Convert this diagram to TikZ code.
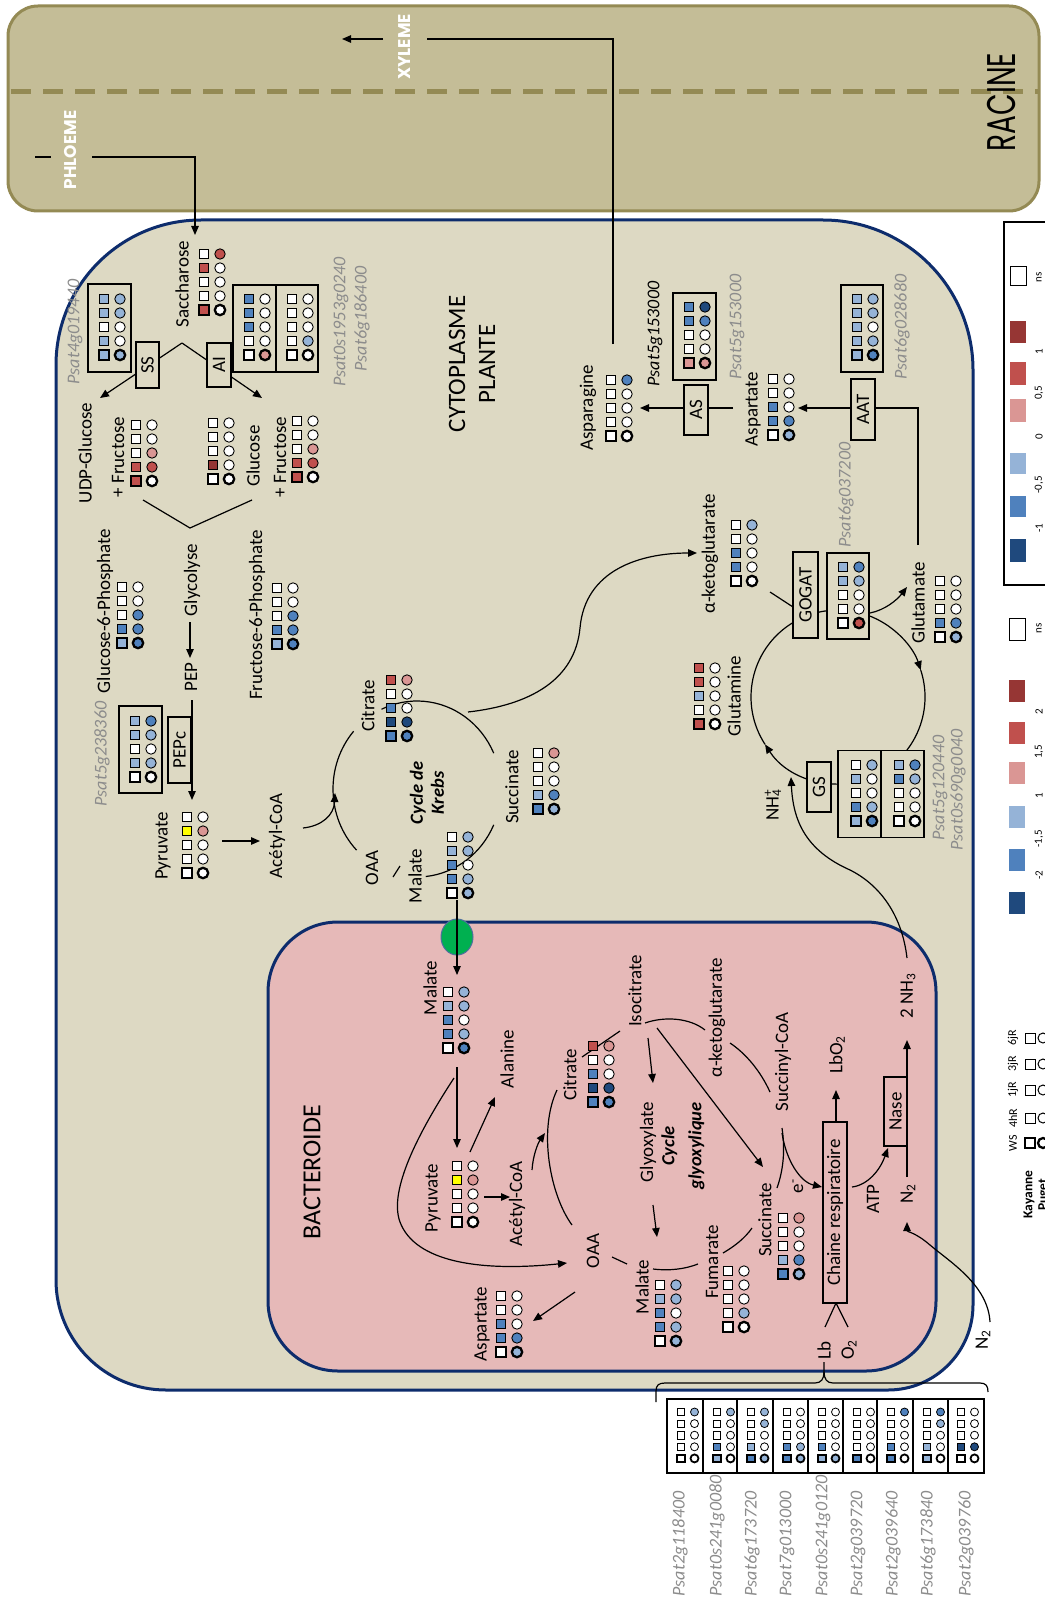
\documentclass[tikz,border=0pt]{standalone}
\usepackage{fontspec}
\setmainfont{Carlito}
\newfontfamily\gothic{Poppins}
\usetikzlibrary{arrows.meta}
\definecolor{racfill}{HTML}{C4BD97}
\definecolor{racline}{HTML}{948A54}
\definecolor{cyto}{HTML}{DDD9C3}
\definecolor{navy}{HTML}{0D2C6C}
\definecolor{bact}{HTML}{E6B9B8}
\definecolor{gtxt}{HTML}{8C8C8C}
\definecolor{ww}{HTML}{FFFFFF}
\definecolor{lb}{HTML}{95B3D7}
\definecolor{mb}{HTML}{4F81BD}
\definecolor{db}{HTML}{1F497D}
\definecolor{lr}{HTML}{DA9694}
\definecolor{mr}{HTML}{C0504D}
\definecolor{dr}{HTML}{963634}
\definecolor{yy}{HTML}{FFFF00}
\definecolor{trans}{HTML}{00B050}
\definecolor{transb}{HTML}{4F6E9E}
\newcommand\lab{\fontsize{19}{21}\selectfont}
\newcommand\genefont{\fontsize{18}{20}\selectfont\itshape}
\newcommand\hmg[9]{%
  \foreach \hc [count=\hi] in {#8}{%
    \pgfmathsetmacro\hlw{\hi==5 ? #7 : #6}%
    \draw[line width=\hlw pt, fill=\hc] ({#1-#4},{#2+(\hi-1)*#3-#4}) rectangle ({#1+#4},{#2+(\hi-1)*#3+#4});%
  }%
  \foreach \hc [count=\hi] in {#9}{%
    \pgfmathsetmacro\hlw{\hi==5 ? #7 : #6}%
    \draw[line width=\hlw pt, fill=\hc] ({#1+#5},{#2+(\hi-1)*#3}) circle[radius={#4+0.3}];%
  }%
}
\newcommand\hm[4]{\hmg{#1}{#2}{14}{4.9}{16}{0.9}{2.3}{#3}{#4}}
\newcommand\hms[4]{\hmg{#1}{#2}{11.6}{3.7}{13.5}{0.8}{1.8}{#3}{#4}}
\begin{document}
\begin{tikzpicture}[x=1pt,y=-1pt,
  ln/.style={line width=1.2pt},
  arr/.style={line width=1.2pt,-{Triangle[length=9pt,width=7.5pt]}},
  lbl/.style={rotate=90,font=\lab,inner sep=0.5pt},
  gene/.style={rotate=90,font=\genefont,text=gtxt,inner sep=0.5pt},
  enz/.style={draw,fill=cyto,rotate=90,line width=1.1pt,font=\lab,inner sep=0pt},
  gbox/.style={draw,fill=cyto,line width=1.3pt,inner sep=0pt},
  leg/.style={rotate=90,font=\fontsize{11}{12}\selectfont,inner sep=0.5pt}]
\fill[white] (0,0) rectangle (1044,1602);
\useasboundingbox (0,0) rectangle (1044,1602);

% ---------- RACINE ----------
\draw[fill=racfill,draw=racline,line width=3pt,rounded corners=30pt] (8,6) rectangle (1039,211);
\draw[racline,line width=5pt,dash pattern=on 20pt off 12pt] (11,92) -- (1038,92);

% ---------- cytoplasm ----------
\draw[fill=cyto,draw=navy,line width=3pt] (56,365) -- (56,1280) arc[start angle=180,end angle=90,radius=110]
  -- (888,1390) arc[start angle=90,end angle=0,radius=85]
  -- (973,370) arc[start angle=0,end angle=-90,radius=150]
  -- (201,220) arc[start angle=270,end angle=180,radius=145] -- cycle;

% ---------- bacteroid ----------
\draw[fill=bact,draw=navy,line width=3pt,rounded corners=70pt] (268,922) rectangle (936,1371);
\draw[fill=trans,draw=transb,line width=1pt] (457,937) ellipse[x radius=16,y radius=18];

% ---------- coordinates ----------
\coordinate (kc) at (417,789);
\coordinate (gc) at (838,697);
\coordinate (phA) at (35,157); \coordinate (phB) at (51,157);
\coordinate (phC) at (92,157); \coordinate (sacTop) at (195,235);
\coordinate (asnTop) at (613,344); \coordinate (xyR) at (427,39);
\coordinate (xyL) at (383,39); \coordinate (xyTip) at (342,39);
\coordinate (sacV) at (182,343); \coordinate (udpT) at (100,398); \coordinate (glcT) at (262,398);
\coordinate (gvA) at (143,500); \coordinate (gvB) at (190,528); \coordinate (gvC) at (252,500);
\coordinate (glyA) at (190,622); \coordinate (glyB) at (190,658);
\coordinate (pepA) at (192,700); \coordinate (pepB) at (192,800);
\coordinate (pyrA) at (222,841); \coordinate (pyrB) at (260,841);
\coordinate (acA) at (303,828); \coordinate (acB) at (335,793);
\coordinate (kA) at (468,712); \coordinate (akgT) at (697,553);
\coordinate (aspL) at (733,408); \coordinate (asnR) at (640,408);
\coordinate (gluT) at (918,545); \coordinate (aspR) at (798,408);
\coordinate (akgG) at (770,592); \coordinate (gogG) at (793,607);
\coordinate (gogR) at (870,613); \coordinate (gluL) at (907,587);
\coordinate (nh3T) at (907,958); \coordinate (nh4B) at (791,777);
\coordinate (malA) at (457,900); \coordinate (malB) at (457,975);

% ---------- cytoplasm connectors ----------
\draw[ln] (phA) -- (phB);
\draw[arr] (phC) -| (sacTop);
\draw[ln] (asnTop) |- (xyR);
\draw[arr] (xyL) -- (xyTip);
\draw[arr] (sacV) -- (udpT);
\draw[arr] (sacV) -- (glcT);
\draw[ln] (gvA) -- (gvB) -- (gvC);
\draw[arr] (glyA) -- (glyB);
\draw[arr] (pepA) -- (pepB);
\draw[arr] (pyrA) -- (pyrB);
\draw[ln] (kc) ++(136:84 and 88) arc[start angle=136,end angle=221,x radius=84,y radius=88];
\draw[ln] (kc) ++(245:84 and 88) arc[start angle=245,end angle=336,x radius=84,y radius=88];
\draw[ln] (kc) ++(24:84 and 88) arc[start angle=24,end angle=84,x radius=84,y radius=88];
\draw[ln] (393,877) -- (400,866);
\draw[arr] (acA) .. controls (322,826) and (334,815) .. (acB);
\draw[arr] (kA) .. controls (530,705) and (575,680) .. (580,628) .. controls (585,570) and (640,553) .. (akgT);
\draw[arr] (aspL) -- (asnR);
\draw[arr] (gluT) |- (aspR);
\draw[arr] (gc) ++(342:87) arc[start angle=342,end angle=507,radius=87];
\draw[arr] (gc) ++(147:87) arc[start angle=147,end angle=342,radius=87];
\draw[ln] (akgG) -- (gogG);
\draw[arr] (gogR) .. controls (885,610) and (897,600) .. (gluL);
\draw[arr] (nh3T) .. controls (902,915) and (880,885) .. (850,870) .. controls (805,850) and (793,820) .. (nh4B);
\draw[arr] (malA) -- (malB);

% ---------- bacteroid connectors ----------
\coordinate (bmA) at (457,1067); \coordinate (bmB) at (457,1148);
\coordinate (bpA) at (470,1152); \coordinate (alaB) at (495,1097);
\coordinate (bpC) at (484,1197); \coordinate (bacB) at (510,1197);
\coordinate (bacA) at (532,1170); \coordinate (bacT) at (545,1133);
\coordinate (boaT) at (572,1225); \coordinate (bciB) at (557,1090);
\coordinate (bciA) at (582,1057); \coordinate (iciL) at (620,1031);
\coordinate (bmC) at (454,1078); \coordinate (boaL) at (567,1263);
\coordinate (boaB) at (575,1292); \coordinate (baspT) at (533,1321);
\coordinate (iciA) at (645,1023); \coordinate (akgB) at (705,1030);
\coordinate (iciB) at (648,1038); \coordinate (glxT) at (653,1083);
\coordinate (glxB) at (653,1205); \coordinate (bm2T) at (657,1237);
\coordinate (iciC) at (657,1028); \coordinate (bsucT) at (763,1167);
\coordinate (scoB) at (782,1133); \coordinate (chL) at (822,1187);
\coordinate (chT) at (836,1122); \coordinate (lboB) at (836,1090);
\coordinate (chB) at (836,1303); \coordinate (lbT) at (825,1327); \coordinate (o2T) at (848,1327);
\coordinate (chR) at (852,1187); \coordinate (nasL) at (888,1148);
\coordinate (n2T) at (907,1177); \coordinate (nh3B) at (907,1040);
\coordinate (n2oA) at (990,1322); \coordinate (n2B) at (907,1222);
\draw[arr] (bmA) -- (bmB);
\draw[arr] (bpA) -- (alaB);
\draw[arr] (bpC) -- (bacB);
\draw[arr] (bacA) .. controls (533,1155) and (538,1143) .. (bacT);
\draw[ln] (boaT) .. controls (550,1195) and (538,1130) .. (bciB);
\draw[ln] (bciA) -- (iciL);
\draw[arr] (bmC) .. controls (420,1130) and (388,1190) .. (400,1222) .. controls (415,1262) and (480,1272) .. (boaL);
\draw[arr] (boaB) -- (baspT);
\draw[ln] (612,1257) -- (627,1264);
\draw[ln] (653,1269) .. controls (670,1271) and (685,1269) .. (698,1264);
\draw[ln] (723,1253) .. controls (735,1246) and (745,1238) .. (752,1228);
\draw[ln] (777,1188) .. controls (784,1168) and (785,1148) .. (782,1128);
\draw[ln] (770,1092) .. controls (760,1070) and (745,1053) .. (730,1043);
\draw[ln] (iciA) .. controls (665,1016) and (690,1018) .. (akgB);
\draw[arr] (iciB) -- (glxT);
\draw[arr] (glxB) -- (bm2T);
\draw[arr] (iciC) -- (bsucT);
\draw[arr] (scoB) .. controls (786,1160) and (800,1182) .. (chL);
\draw[arr] (chT) -- (lboB);
\draw[ln] (lbT) -- (chB) -- (o2T);
\draw[arr] (chR) .. controls (868,1185) and (880,1170) .. (nasL);
\draw[arr] (n2T) -- (nh3B);
\draw[arr] (n2oA) .. controls (988,1285) and (950,1262) .. (930,1245) .. controls (915,1232) and (907,1232) .. (n2B);

% ---------- enzyme boxes ----------
\node[enz,minimum width=46pt,minimum height=23pt] (ss) at (147.5,365) {SS};
\node[enz,minimum width=44pt,minimum height=24pt] (ai) at (219,365) {AI};
\node[enz,minimum width=66pt,minimum height=23pt] (pepc) at (179.5,750) {PEPc};
\node[enz,minimum width=50pt,minimum height=24pt] (as) at (696,410) {AS};
\node[enz,minimum width=61pt,minimum height=24pt] (aat) at (863,409.5) {AAT};
\node[enz,minimum width=86pt,minimum height=25pt] (gogat) at (805.5,595) {GOGAT};
\node[enz,minimum width=50pt,minimum height=24pt] (gs) at (819,787) {GS};
\node[enz,fill=bact,minimum width=181pt,minimum height=24pt] (chain) at (835,1212.5) {Chaine respiratoire};
\node[enz,fill=bact,minimum width=69pt,minimum height=23pt] (nase) at (895.5,1111.5) {Nase};

% ---------- gene boxes ----------
\node[gbox,minimum width=43pt,minimum height=88pt] (ssg) at (109.5,328) {};
\node[gbox,minimum width=43pt,minimum height=87pt] (aig1) at (254.5,328.5) {};
\node[gbox,minimum width=42pt,minimum height=87pt] (aig2) at (297,328.5) {};
\node[gbox,minimum width=43pt,minimum height=87pt] (pepcg) at (140.5,749.5) {};
\node[gbox,minimum width=43pt,minimum height=87pt] (asg) at (694.5,336.5) {};
\node[gbox,minimum width=42pt,minimum height=87pt] (aatg) at (862,328.5) {};
\node[gbox,minimum width=42pt,minimum height=86pt] (gogatg) at (848,596) {};
\node[gbox,minimum width=43pt,minimum height=87pt] (gsg1) at (859.5,794) {};
\node[gbox,minimum width=43pt,minimum height=87pt] (gsg2) at (902.5,794) {};

% ---------- heatmaps (cytoplasm) ----------
\hm{204}{254}{ww,mr,ww,ww,mr}{mr,ww,ww,ww,ww}
\hm{104}{299}{lb,lb,ww,lb,lb}{lb,lb,ww,ww,lb}
\hm{249}{299}{mb,mb,mb,ww,ww}{ww,ww,ww,ww,lr}
\hm{292}{299}{ww,ww,ww,ww,ww}{ww,ww,ww,lb,ww}
\hm{136}{425}{ww,ww,ww,mr,mr}{ww,ww,lr,mr,ww}
\hm{213}{423}{ww,ww,ww,dr,ww}{ww,ww,ww,ww,ww}
\hm{297}{421}{ww,ww,ww,mr,mr}{ww,ww,lr,mr,ww}
\hm{122}{587}{ww,ww,ww,mb,lb}{ww,ww,mb,mb,mb}
\hm{277}{588}{ww,ww,ww,mb,lb}{ww,ww,mb,mb,mb}
\hm{135}{721}{lb,lb,ww,lb,ww}{mb,lb,ww,lb,ww}
\hm{187}{817}{ww,yy,ww,ww,ww}{ww,lr,ww,ww,ww}
\hm{391}{680}{mr,ww,mb,db,mb}{lr,ww,ww,db,mb}
\hm{538}{753}{ww,ww,ww,lb,mb}{lr,ww,ww,mb,lb}
\hm{452}{837}{ww,lb,mb,mb,ww}{lb,lb,ww,lb,lb}
\hm{611}{380}{ww,ww,ww,ww,ww}{mb,ww,ww,ww,ww}
\hm{689}{307}{mb,mb,ww,ww,lr}{db,mb,ww,ww,lr}
\hm{773}{379}{ww,ww,mb,mb,ww}{ww,ww,ww,mb,lb}
\hm{857}{299}{lb,lb,lb,lb,lb}{lb,lb,ww,lb,mb}
\hm{736}{525}{ww,ww,mb,mb,ww}{lb,ww,ww,ww,ww}
\hm{843}{567}{lb,lb,ww,ww,ww}{mb,lb,ww,ww,mr}
\hm{940}{581}{ww,ww,ww,mb,ww}{ww,ww,ww,mb,lb}
\hm{856}{765}{ww,lb,ww,mb,lb}{lb,ww,ww,lb,mb}
\hm{899}{765}{lb,mb,ww,ww,ww}{mb,lb,ww,ww,ww}
\hm{699}{668}{mr,mr,lb,ww,mr}{ww,ww,ww,ww,ww}

% ---------- heatmaps (bacteroid) ----------
\hm{448}{992}{ww,lb,mb,mb,ww}{lb,lb,ww,lb,mb}
\hm{457}{1166}{ww,yy,ww,ww,ww}{ww,lr,ww,ww,ww}
\hm{593}{1046}{mr,ww,mb,db,mb}{lr,ww,ww,db,mb}
\hm{501}{1296}{ww,ww,mb,mb,ww}{ww,ww,ww,mb,lb}
\hm{660}{1285}{ww,lb,mb,mb,ww}{lb,lb,ww,lb,lb}
\hm{728}{1271}{ww,ww,ww,ww,ww}{ww,ww,ww,lb,ww}
\hm{783}{1218}{ww,ww,ww,lb,mb}{lr,ww,ww,mb,lb}

% ---------- labels (cytoplasm) ----------
\node[lbl] (sac) at (182,284) {Saccharose};
\node[lbl] (udp) at (85,453) {UDP-Glucose};
\node[lbl] (fruA) at (118,457) {+ Fructose};
\node[lbl] (glc) at (253,456) {Glucose};
\node[lbl] (fruB) at (280,457) {+ Fructose};
\node[lbl] (g6p) at (105,611) {Glucose-6-Phosphate};
\node[lbl] (f6p) at (257,615) {Fructose-6-Phosphate};
\node[lbl] (glyco) at (192,580) {Glycolyse};
\node[lbl] (pep) at (191,677) {PEP};
\node[lbl] (pyr) at (163,846) {Pyruvate};
\node[lbl] (acoa) at (277,836) {Acétyl-CoA};
\node[lbl] (cit) at (368,706) {Citrate};
\node[rotate=90,align=center,font=\fontsize{18.5}{21}\selectfont\bfseries\itshape,inner sep=0.5pt] (krebs) at (427,793) {Cycle de\\Krebs};
\node[lbl] (oaa) at (372,868) {OAA};
\node[lbl] (mal) at (415,876) {Malate};
\node[lbl] (suc) at (512,787) {Succinate};
\node[lbl] (asn) at (588,408) {Asparagine};
\node[lbl] (asp) at (753,409) {Aspartate};
\node[lbl] (akg) at (710,554) {α-ketoglutarate};
\node[lbl] (gln) at (734,696) {Glutamine};
\node[lbl] (glu) at (918,603) {Glutamate};
\node[lbl] (nh4) at (773,805) {NH\rlap{\textsuperscript{+}}\textsubscript{4}};
\node[rotate=90,align=center,font=\fontsize{25}{30}\selectfont,inner sep=0.5pt] (cyto) at (472,364) {CYTOPLASME\\PLANTE};

\node[gene] (g1) at (75,332) {Psat4g019440};
\node[gene] (g2) at (341,322) {Psat0s1953g0240};
\node[gene] (g3) at (362,319) {Psat6g186400};
\node[gene] (g4) at (102,754) {Psat5g238360};
\node[gene,text=black] (g5) at (655,334) {Psat5g153000};
\node[gene] (g6) at (737,327) {Psat5g153000};
\node[gene] (g7) at (902,327) {Psat6g028680};
\node[gene] (g8) at (846,495) {Psat6g037200};
\node[gene] (g9) at (940,788) {Psat5g120440};
\node[gene] (g10) at (958,790) {Psat0s690g0040};

% ---------- labels (bacteroid) ----------
\node[rotate=90,font=\fontsize{26}{28}\selectfont,inner sep=0.5pt] (bact) at (312,1172) {BACTEROIDE};
\node[lbl] (bmal) at (430,988) {Malate};
\node[lbl] (ala) at (507,1059) {Alanine};
\node[lbl] (bpyr) at (433,1198) {Pyruvate};
\node[lbl] (bacoa) at (517,1204) {Acétyl-CoA};
\node[lbl] (bcit) at (570,1075) {Citrate};
\node[lbl] (icit) at (635,991) {Isocitrate};
\node[lbl] (boaa) at (593,1251) {OAA};
\node[lbl] (basp) at (482,1324) {Aspartate};
\node[lbl] (bmal2) at (642,1287) {Malate};
\node[lbl] (fum) at (712,1262) {Fumarate};
\node[lbl] (bsuc) at (765,1220) {Succinate};
\node[lbl] (sco) at (783,1062) {Succinyl-CoA};
\node[lbl] (bakg) at (717,1018) {α-ketoglutarate};
\node[lbl] (glx) at (648,1142) {Glyoxylate};
\node[rotate=90,align=center,font=\fontsize{18.5}{27}\selectfont\bfseries\itshape,inner sep=0.5pt] (glxc) at (683,1146) {Cycle\\glyoxylique};
\node[lbl] (em) at (798,1186) {e\textsuperscript{-}};
\node[lbl] (lbo2) at (837,1055) {LbO\textsubscript{2}};
\node[lbl] (lb) at (824,1350) {Lb};
\node[lbl] (o2) at (849,1350) {O\textsubscript{2}};
\node[lbl] (atp) at (873,1199) {ATP};
\node[lbl] (n2) at (908,1194) {N\textsubscript{2}};
\node[lbl] (nh3) at (908,996) {2 NH\textsubscript{3}};
\node[lbl] (n2o) at (983,1340) {N\textsubscript{2}};

% ---------- Lb brace and gene list ----------
\draw[ln] (656,1402) -- (656,1391) .. controls (656,1385) and (659,1383) .. (665,1383) -- (815,1383) .. controls (821,1383) and (824,1379) .. (824,1372) -- (824,1362);
\draw[ln] (824,1372) .. controls (824,1379) and (827,1383) .. (833,1383) -- (980,1383) .. controls (986,1383) and (988,1386) .. (988,1392);
\node[gbox,fill=white,minimum width=317pt,minimum height=74pt] (glist) at (825.5,1436) {};
\foreach \gx in {703,737,773,808,843,877,913,948} \draw[line width=1.2pt] (\gx,1399) -- (\gx,1473);
\hms{681}{1412}{ww,ww,ww,ww,ww}{lb,ww,ww,ww,ww}
\hms{717}{1412}{ww,ww,ww,mb,lb}{lb,ww,ww,ww,ww}
\hms{751}{1412}{ww,ww,ww,lb,mb}{lb,lb,ww,ww,lb}
\hms{787}{1412}{ww,ww,ww,mb,mb}{ww,ww,ww,lb,lb}
\hms{822}{1412}{ww,ww,ww,mb,lb}{ww,ww,ww,ww,lb}
\hms{857}{1412}{ww,ww,ww,ww,mb}{ww,ww,ww,ww,ww}
\hms{891}{1412}{ww,ww,ww,mb,mb}{mb,ww,ww,ww,ww}
\hms{927}{1412}{ww,ww,ww,lb,lb}{mb,lb,ww,ww,ww}
\hms{961}{1412}{ww,ww,ww,db,ww}{ww,ww,ww,db,ww}
\node[gene,anchor=west] (gl1) at (680,1597) {Psat2g118400};
\node[gene,anchor=west] (gl2) at (717,1597) {Psat0s241g0080};
\node[gene,anchor=west] (gl3) at (752,1597) {Psat6g173720};
\node[gene,anchor=west] (gl4) at (787,1597) {Psat7g013000};
\node[gene,anchor=west] (gl5) at (823,1597) {Psat0s241g0120};
\node[gene,anchor=west] (gl6) at (858,1597) {Psat2g039720};
\node[gene,anchor=west] (gl7) at (893,1597) {Psat2g039640};
\node[gene,anchor=west] (gl8) at (928,1597) {Psat6g173840};
\node[gene,anchor=west] (gl9) at (966,1597) {Psat2g039760};

% ---------- RACINE texts ----------
\node[rotate=90,inner sep=0pt] (racine) at (1001,102) {\scalebox{0.7}[1]{\gothic\fontsize{40}{40}\selectfont RACINE}};
\node[rotate=90,text=white,font=\gothic\bfseries\fontsize{17}{18}\selectfont,inner sep=0.5pt] (xyl) at (405,47) {XYLEME};
\node[rotate=90,text=white,font=\gothic\bfseries\fontsize{17}{18}\selectfont,inner sep=0.5pt] (phl) at (71,150) {PHLOEME};

% ---------- legend 1 ----------
\draw[line width=1.3pt] (1004,222) rectangle (1070,585);
\draw[line width=1pt,fill=white] (1010,267) rectangle (1026,286);
\fill[dr] (1010,321) rectangle (1026,343);
\fill[mr] (1010,362) rectangle (1026,385);
\fill[lr] (1010,399) rectangle (1026,422);
\fill[lb] (1010,453) rectangle (1026,474);
\fill[mb] (1010,496) rectangle (1026,517);
\fill[db] (1010,539) rectangle (1026,562);
\node[leg] (la1) at (1039,277) {ns};
\node[leg] (la2) at (1039,352) {1};
\node[leg] (la3) at (1039,393) {0,5};
\node[leg] (la4) at (1039,437) {0};
\node[leg] (la5) at (1039,485) {-0,5};
\node[leg] (la6) at (1039,528) {-1};

% ---------- legend 2 ----------
\draw[line width=1pt,fill=white] (1009,618) rectangle (1025,640);
\fill[dr] (1009,680) rectangle (1025,702);
\fill[mr] (1009,722) rectangle (1025,744);
\fill[lr] (1009,762) rectangle (1025,784);
\fill[lb] (1009,806) rectangle (1025,828);
\fill[mb] (1009,849) rectangle (1025,871);
\fill[db] (1009,892) rectangle (1025,914);
\node[leg] (lb1) at (1039,628) {ns};
\node[leg] (lb2) at (1039,712) {2};
\node[leg] (lb3) at (1039,752) {1,5};
\node[leg] (lb4) at (1039,796) {1};
\node[leg] (lb5) at (1039,839) {-1,5};
\node[leg] (lb6) at (1039,875) {-2};

% ---------- legend 3 ----------
\node[leg,font=\fontsize{12}{13}\selectfont] (t6) at (1013,1038) {6jR};
\node[leg,font=\fontsize{12}{13}\selectfont] (t3) at (1013,1064) {3jR};
\node[leg,font=\fontsize{12}{13}\selectfont] (t1) at (1013,1090) {1jR};
\node[leg,font=\fontsize{12}{13}\selectfont] (t4) at (1013,1118) {4hR};
\node[leg,font=\fontsize{12}{13}\selectfont] (tw) at (1013,1143) {WS};
\foreach \ty in {1038,1064,1090,1118} {
  \draw[line width=1pt,fill=white] (1025,\ty-5) rectangle (1035,\ty+5);
  \draw[line width=1pt,fill=white] (1043,\ty) circle[radius=5];
}
\draw[line width=2.3pt,fill=white] (1025,1138) rectangle (1035,1148);
\draw[line width=2.3pt,fill=white] (1043,1143) circle[radius=5];
\node[leg,anchor=east,font=\fontsize{13.5}{14}\selectfont\bfseries] (kay) at (1029,1170) {Kayanne};
\node[leg,anchor=east,font=\fontsize{13.5}{14}\selectfont\bfseries] (pug) at (1044,1178) {Puget};
\end{tikzpicture}
\end{document}
